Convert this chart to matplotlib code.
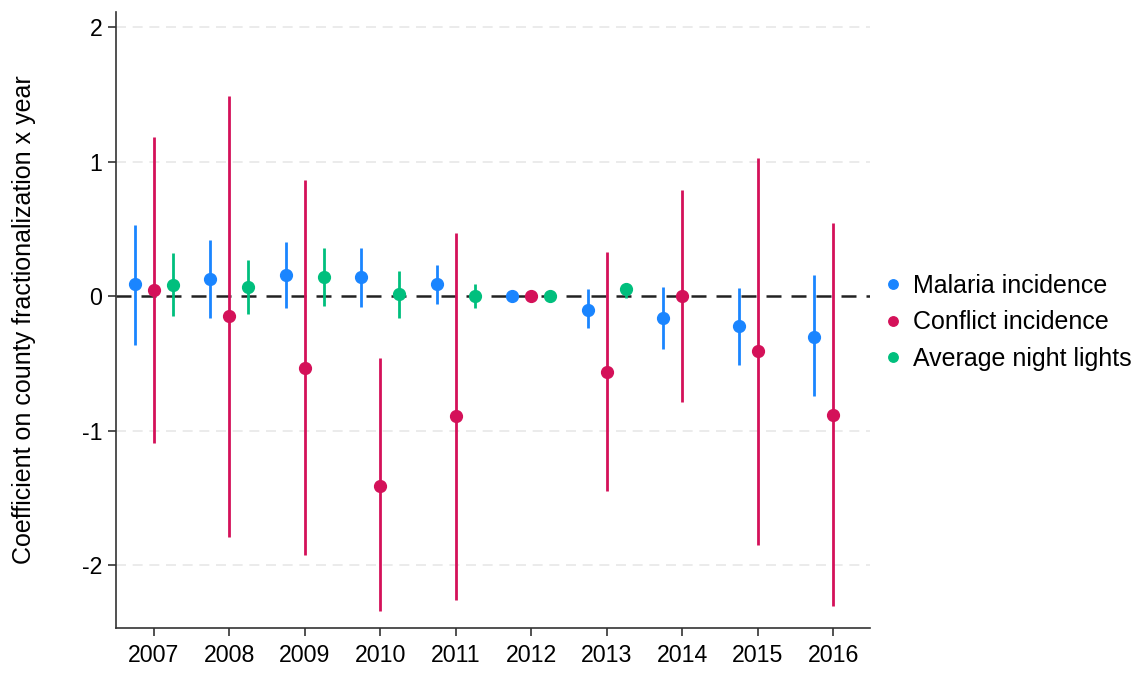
import matplotlib
matplotlib.use("Agg")
import matplotlib.pyplot as plt
import numpy as np

plt.rcParams['font.family'] = ['Liberation Sans', 'DejaVu Sans']

years = [2007, 2008, 2009, 2010, 2011, 2012, 2013, 2014, 2015, 2016]

malaria_coef = [0.09, 0.13, 0.16, 0.14, 0.087, 0.0, -0.10, -0.165, -0.225, -0.30]
malaria_lo = [-0.36, -0.16, -0.086, -0.08, -0.056, 0.0, -0.24, -0.39, -0.51, -0.745]
malaria_hi = [0.53, 0.42, 0.40, 0.36, 0.23, 0.0, 0.05, 0.065, 0.06, 0.155]

conflict_coef = [0.045, -0.15, -0.53, -1.41, -0.89, 0.0, -0.565, 0.0, -0.41, -0.88]
conflict_lo = [-1.09, -1.79, -1.92, -2.34, -2.26, 0.0, -1.45, -0.79, -1.85, -2.30]
conflict_hi = [1.18, 1.49, 0.86, -0.46, 0.47, 0.0, 0.33, 0.786, 1.025, 0.545]

lights_coef = [0.08, 0.07, 0.144, 0.018, 0.0, 0.0, 0.05, np.nan, np.nan, np.nan]
lights_lo = [-0.15, -0.13, -0.074, -0.16, -0.09, 0.0, -0.01, np.nan, np.nan, np.nan]
lights_hi = [0.32, 0.27, 0.355, 0.19, 0.09, 0.0, 0.10, np.nan, np.nan, np.nan]

series = [
    ("Malaria incidence", malaria_coef, malaria_lo, malaria_hi, "#1a85ff", -0.25),
    ("Conflict incidence", conflict_coef, conflict_lo, conflict_hi, "#d41159", 0.0),
    ("Average night lights", lights_coef, lights_lo, lights_hi, "#00bf7d", 0.25),
]

fig = plt.figure(figsize=(11.4, 6.73), dpi=100)
ax = fig.add_axes([0.1018, 0.0673, 0.6614, 0.9144])

for yv in [-2, -1, 1, 2]:
    ax.axhline(yv, color="#e8e8e8", lw=1.2, ls=(0, (6, 4)), zorder=0)
ax.axhline(0, color="#222222", lw=1.8, ls=(0, (6, 4)), zorder=1)

for name, c, lo, hi, col, off in series:
    x = np.array(years, dtype=float) + off
    c = np.array(c, dtype=float)
    lo = np.array(lo, dtype=float)
    hi = np.array(hi, dtype=float)
    ax.vlines(x, lo, hi, color=col, lw=2.0, zorder=2)
    ax.plot(x, c, "o", color=col, ms=8.5, zorder=3, label=name, linestyle="none")

ax.set_xlim(2006.5, 2016.49)
ax.set_ylim(-2.464, 2.11)
ax.set_xticks(years)
ax.set_xticklabels([str(y) for y in years])
ax.set_yticks([-2, -1, 0, 1, 2])
ax.set_yticklabels(["-2", "-1", "0", "1", "2"])
ax.tick_params(axis="both", labelsize=16.7, length=6, width=1.2, color="#333333")
ax.tick_params(axis="x", pad=6)
ax.tick_params(axis="y", pad=4)
for s in ["top", "right"]:
    ax.spines[s].set_visible(False)
for s in ["left", "bottom"]:
    ax.spines[s].set_linewidth(1.2)
    ax.spines[s].set_color("#333333")
ax.set_ylabel("Coefficient on county fractionalization x year", fontsize=18, labelpad=33)

leg = fig.legend(loc="center left", bbox_to_anchor=(0.753, 0.521), frameon=False,
                 fontsize=18, handletextpad=0.3, markerscale=0.8,
                 labelspacing=0.5, handlelength=1.0)

fig.savefig("out.png", dpi=100, facecolor="white")
